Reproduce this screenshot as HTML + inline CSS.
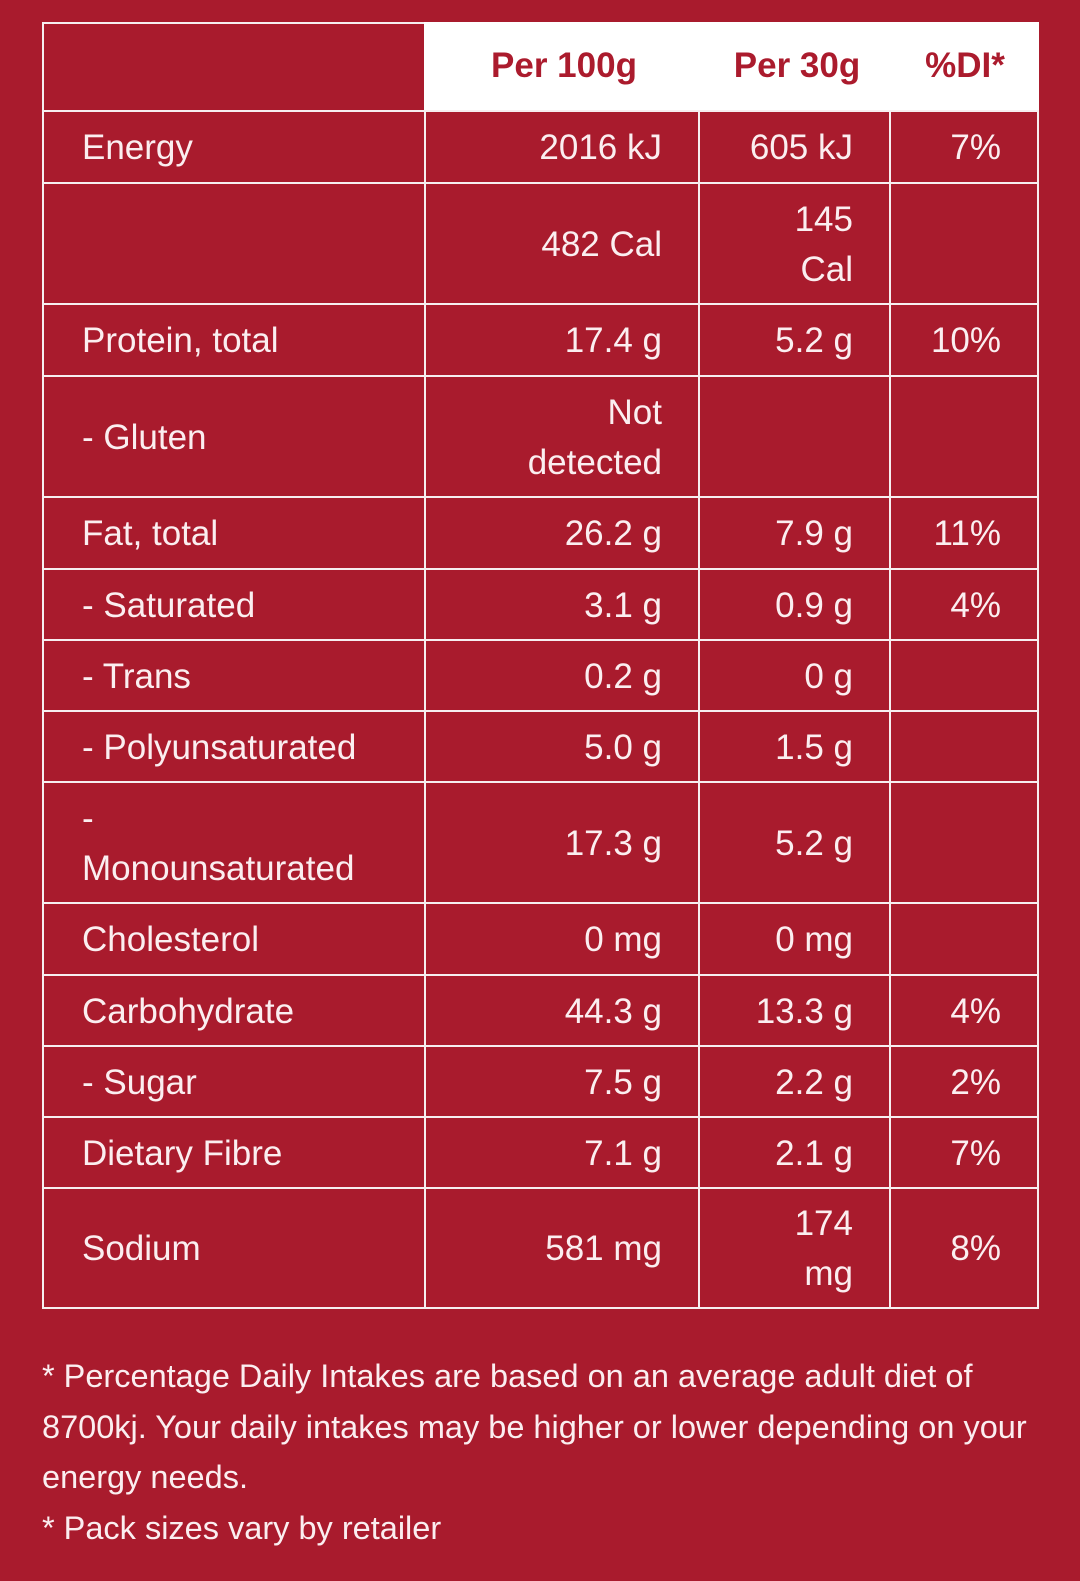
<!DOCTYPE html>
<html><head><meta charset="utf-8"><style>
html,body{margin:0;padding:0;}
body{width:1080px;height:1581px;background:#a91b2d;font-family:"Liberation Sans",sans-serif;color:#fbeef0;position:relative;overflow:hidden;}
.g{position:absolute;left:42px;top:22px;display:grid;
grid-template-columns:380px 272px 189px 146px;
grid-template-rows:86px 70px 119px 70px 119px 70px 69px 69px 69px 119px 70px 69px 69px 69px 118px;
gap:2px;background:#f7eef0;border:2px solid #f7eef0;}
.g div{background:#a91b2d;display:flex;align-items:center;justify-content:flex-end;padding-right:36px;padding-top:2px;font-size:35px;line-height:50px;text-align:right;}
.g div.l{justify-content:flex-start;padding-left:38px;padding-right:0;text-align:left;}
.g div.h{background:#fff;color:#ab1b2d;font-weight:bold;justify-content:center;padding:0;font-size:35px;}
.g div.hl{background:#a91b2d;}
.hw{position:absolute;left:424px;top:22px;width:615px;height:88px;background:#fff;display:flex;align-items:center;color:#ab1b2d;font-weight:bold;font-size:35px;}
.hw span{position:absolute;transform:translateX(-50%);white-space:nowrap;}
.f{position:absolute;left:42px;top:1351px;width:1000px;font-size:32.5px;line-height:50.5px;}
</style></head><body>
<div class="g">
<div class="hl"></div><div class="h"></div><div class="h"></div><div class="h"></div>
<div class="l">Energy</div><div>2016 kJ</div><div>605 kJ</div><div>7%</div>
<div class="l"></div><div>482 Cal</div><div>145<br>Cal</div><div></div>
<div class="l">Protein, total</div><div>17.4 g</div><div>5.2 g</div><div>10%</div>
<div class="l">- Gluten</div><div>Not<br>detected</div><div></div><div></div>
<div class="l">Fat, total</div><div>26.2 g</div><div>7.9 g</div><div>11%</div>
<div class="l">- Saturated</div><div>3.1 g</div><div>0.9 g</div><div>4%</div>
<div class="l">- Trans</div><div>0.2 g</div><div>0 g</div><div></div>
<div class="l">- Polyunsaturated</div><div>5.0 g</div><div>1.5 g</div><div></div>
<div class="l">-<br>Monounsaturated</div><div>17.3 g</div><div>5.2 g</div><div></div>
<div class="l">Cholesterol</div><div>0 mg</div><div>0 mg</div><div></div>
<div class="l">Carbohydrate</div><div>44.3 g</div><div>13.3 g</div><div>4%</div>
<div class="l">- Sugar</div><div>7.5 g</div><div>2.2 g</div><div>2%</div>
<div class="l">Dietary Fibre</div><div>7.1 g</div><div>2.1 g</div><div>7%</div>
<div class="l">Sodium</div><div>581 mg</div><div>174<br>mg</div><div>8%</div>
</div>
<div class="hw"><span style="left:140px">Per 100g</span><span style="left:373px">Per 30g</span><span style="left:541px">%DI*</span></div>
<div class="f">* Percentage Daily Intakes are based on an average adult diet of 8700kj. Your daily intakes may be higher or lower depending on your energy needs.<br>* Pack sizes vary by retailer</div>
</body></html>
